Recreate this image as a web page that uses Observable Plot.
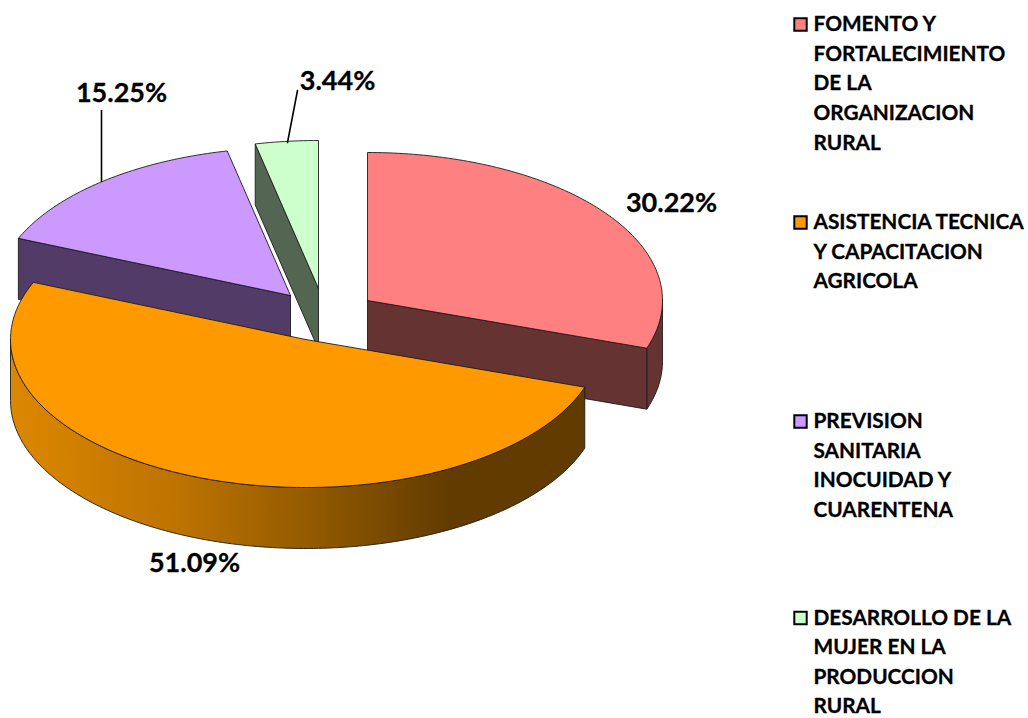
<!DOCTYPE html>
<html>
<head>
<meta charset="utf-8">
<script src="https://cdn.jsdelivr.net/npm/d3@7"></script>
<script src="https://cdn.jsdelivr.net/npm/@observablehq/plot@0.6"></script>
<style>html,body{margin:0;padding:0;background:#fff}svg{display:block}</style>
</head>
<body>
<div id="chart"></div>
<script>
// Data
const categories = [
  "FOMENTO Y FORTALECIMIENTO DE LA ORGANIZACION RURAL",
  "ASISTENCIA TECNICA Y CAPACITACION AGRICOLA",
  "PREVISION SANITARIA INOCUIDAD Y CUARENTENA",
  "DESARROLLO DE LA MUJER EN LA PRODUCCION RURAL"
];
const shares = [30.22, 51.09, 15.25, 3.44];
const legendLines = [
  ["FOMENTO Y", "FORTALECIMIENTO", "DE LA", "ORGANIZACION", "RURAL"],
  ["ASISTENCIA TECNICA", "Y CAPACITACION", "AGRICOLA"],
  ["PREVISION", "SANITARIA", "INOCUIDAD Y", "CUARENTENA"],
  ["DESARROLLO DE LA", "MUJER EN LA", "PRODUCCION", "RURAL"]
];
// Styles
const topColors = ["#ff8080", "#ff9900", "#cc99ff", "#ccffcc"];
const sideColors = ["#663333", "#ff9900", "#523b66", "#526652"];
const wallStops = [[10, "#dc8700"], [180, "#bd7300"], [330, "#8c5600"], [450, "#613b00"]];
// Layout
const rx = 295, ry = 148, depth = 61;
const apexes = [[367, 300], [305, 339], [290, 295], [318, 288]];
const labelAt = [[671, 203], [194, 563], [121, 93], [337, 81]];
const legendFirstY = [24, 222, 421, 617.5];
const lineStep = 29.6;
const leaders = [
  [[101, 110], [101, 181]],
  [[297, 90], [287, 142]]
];

// slice angles, clockwise from the top, from the shares
const total = d3.sum(shares);
let acc = 0;
const slices = shares.map((v, i) => {
  const a0 = acc / total * 360; acc += v;
  return {i, a0, a1: acc / total * 360, apex: apexes[i]};
});
const rad = Math.PI / 180;
const rim = (s, a, dz = 0) => [s.apex[0] + rx * Math.sin(a * rad), s.apex[1] - ry * Math.cos(a * rad) + dz];
const arc = (s, a0, a1, dz = 0) => {
  const n = Math.max(2, Math.ceil(Math.abs(a1 - a0)));
  return d3.range(n + 1).map(k => rim(s, a0 + (a1 - a0) * k / n, dz));
};
const close = pts => [...pts, pts[0]];
const lift = (p, dz) => [p[0], p[1] + dz];

const outline = {stroke: "#1c1c1c", strokeWidth: 0.9};
const poly = (pts, fill, st = outline) =>
  Plot.line(close(pts), {x: d => d[0], y: d => d[1], fill, ...st, curve: "linear", strokeLinejoin: "round"});
const topFace = s => poly([s.apex, ...arc(s, s.a0, s.a1)], topColors[s.i]);
const wedgeWall = (s, a) => {
  const e = rim(s, a);
  return poly([s.apex, e, lift(e, depth), lift(s.apex, depth)], sideColors[s.i]);
};
const outerWall = (s, a0, a1, fill, st = outline) =>
  poly([...arc(s, a0, a1), ...arc(s, a1, a0, depth)], fill, st);

const [red, orange, purple, green] = slices;

// horizontal gradient of the orange outer wall, in the x scale's coordinates
const wallGradient = (index, scales) => {
  const defs = d3.create("svg:defs");
  const g = defs.append("linearGradient").attr("id", "orangeWall")
    .attr("gradientUnits", "userSpaceOnUse")
    .attr("x1", scales.x(wallStops[0][0])).attr("x2", scales.x(wallStops[wallStops.length - 1][0]))
    .attr("y1", 0).attr("y2", 0);
  const span = wallStops[wallStops.length - 1][0] - wallStops[0][0];
  for (const [x, c] of wallStops)
    g.append("stop").attr("offset", (x - wallStops[0][0]) / span).attr("stop-color", c);
  return defs.node();
};

const legendRows = legendLines.flatMap((lines, i) =>
  lines.map((t, k) => ({t, y: legendFirstY[i] + k * lineStep})));
const legendKeys = legendFirstY.map((y, i) => ({y, fill: topColors[i]}));
const pctLabels = shares.map((v, i) => ({t: v.toFixed(2) + "%", x: labelAt[i][0], y: labelAt[i][1]}));

const plot = Plot.plot({
  width: 1028, height: 718,
  margin: 0,
  x: {domain: [0, 1028], range: [0, 1028], axis: null},
  y: {domain: [0, 718], range: [0, 718], axis: null},
  style: {fontFamily: "Lato, 'Open Sans', sans-serif", background: "#fff"},
  marks: [
    wallGradient,
    // green slice
    wedgeWall(green, green.a0),
    topFace(green),
    // purple slice
    wedgeWall(purple, purple.a0),
    topFace(purple),
    // red slice
    outerWall(red, 90, red.a1, sideColors[0]),
    wedgeWall(red, red.a1),
    topFace(red),
    // orange slice
    outerWall(orange, orange.a0, 270, "url(#orangeWall)"),
    topFace(orange),
    // leaders
    ...leaders.map(l => Plot.line(l, {x: d => d[0], y: d => d[1], stroke: "#000", strokeWidth: 1.6})),
    // percentage labels
    Plot.text(pctLabels, {x: "x", y: "y", text: "t", fontSize: 27, fontWeight: 700, fill: "#000", stroke: "#000", strokeWidth: 0.3}),
    // legend
    Plot.dot(legendKeys, {x: () => 800, y: "y", fill: "fill", stroke: "#000", strokeWidth: 2, symbol: "square", r: 7}),
    Plot.text(legendRows, {x: () => 813, y: "y", text: "t", textAnchor: "start", fontSize: 20.8, fontWeight: 700, fill: "#000", stroke: "#000", strokeWidth: 0.3})
  ]
});
document.getElementById("chart").append(plot);
</script>
</body>
</html>
